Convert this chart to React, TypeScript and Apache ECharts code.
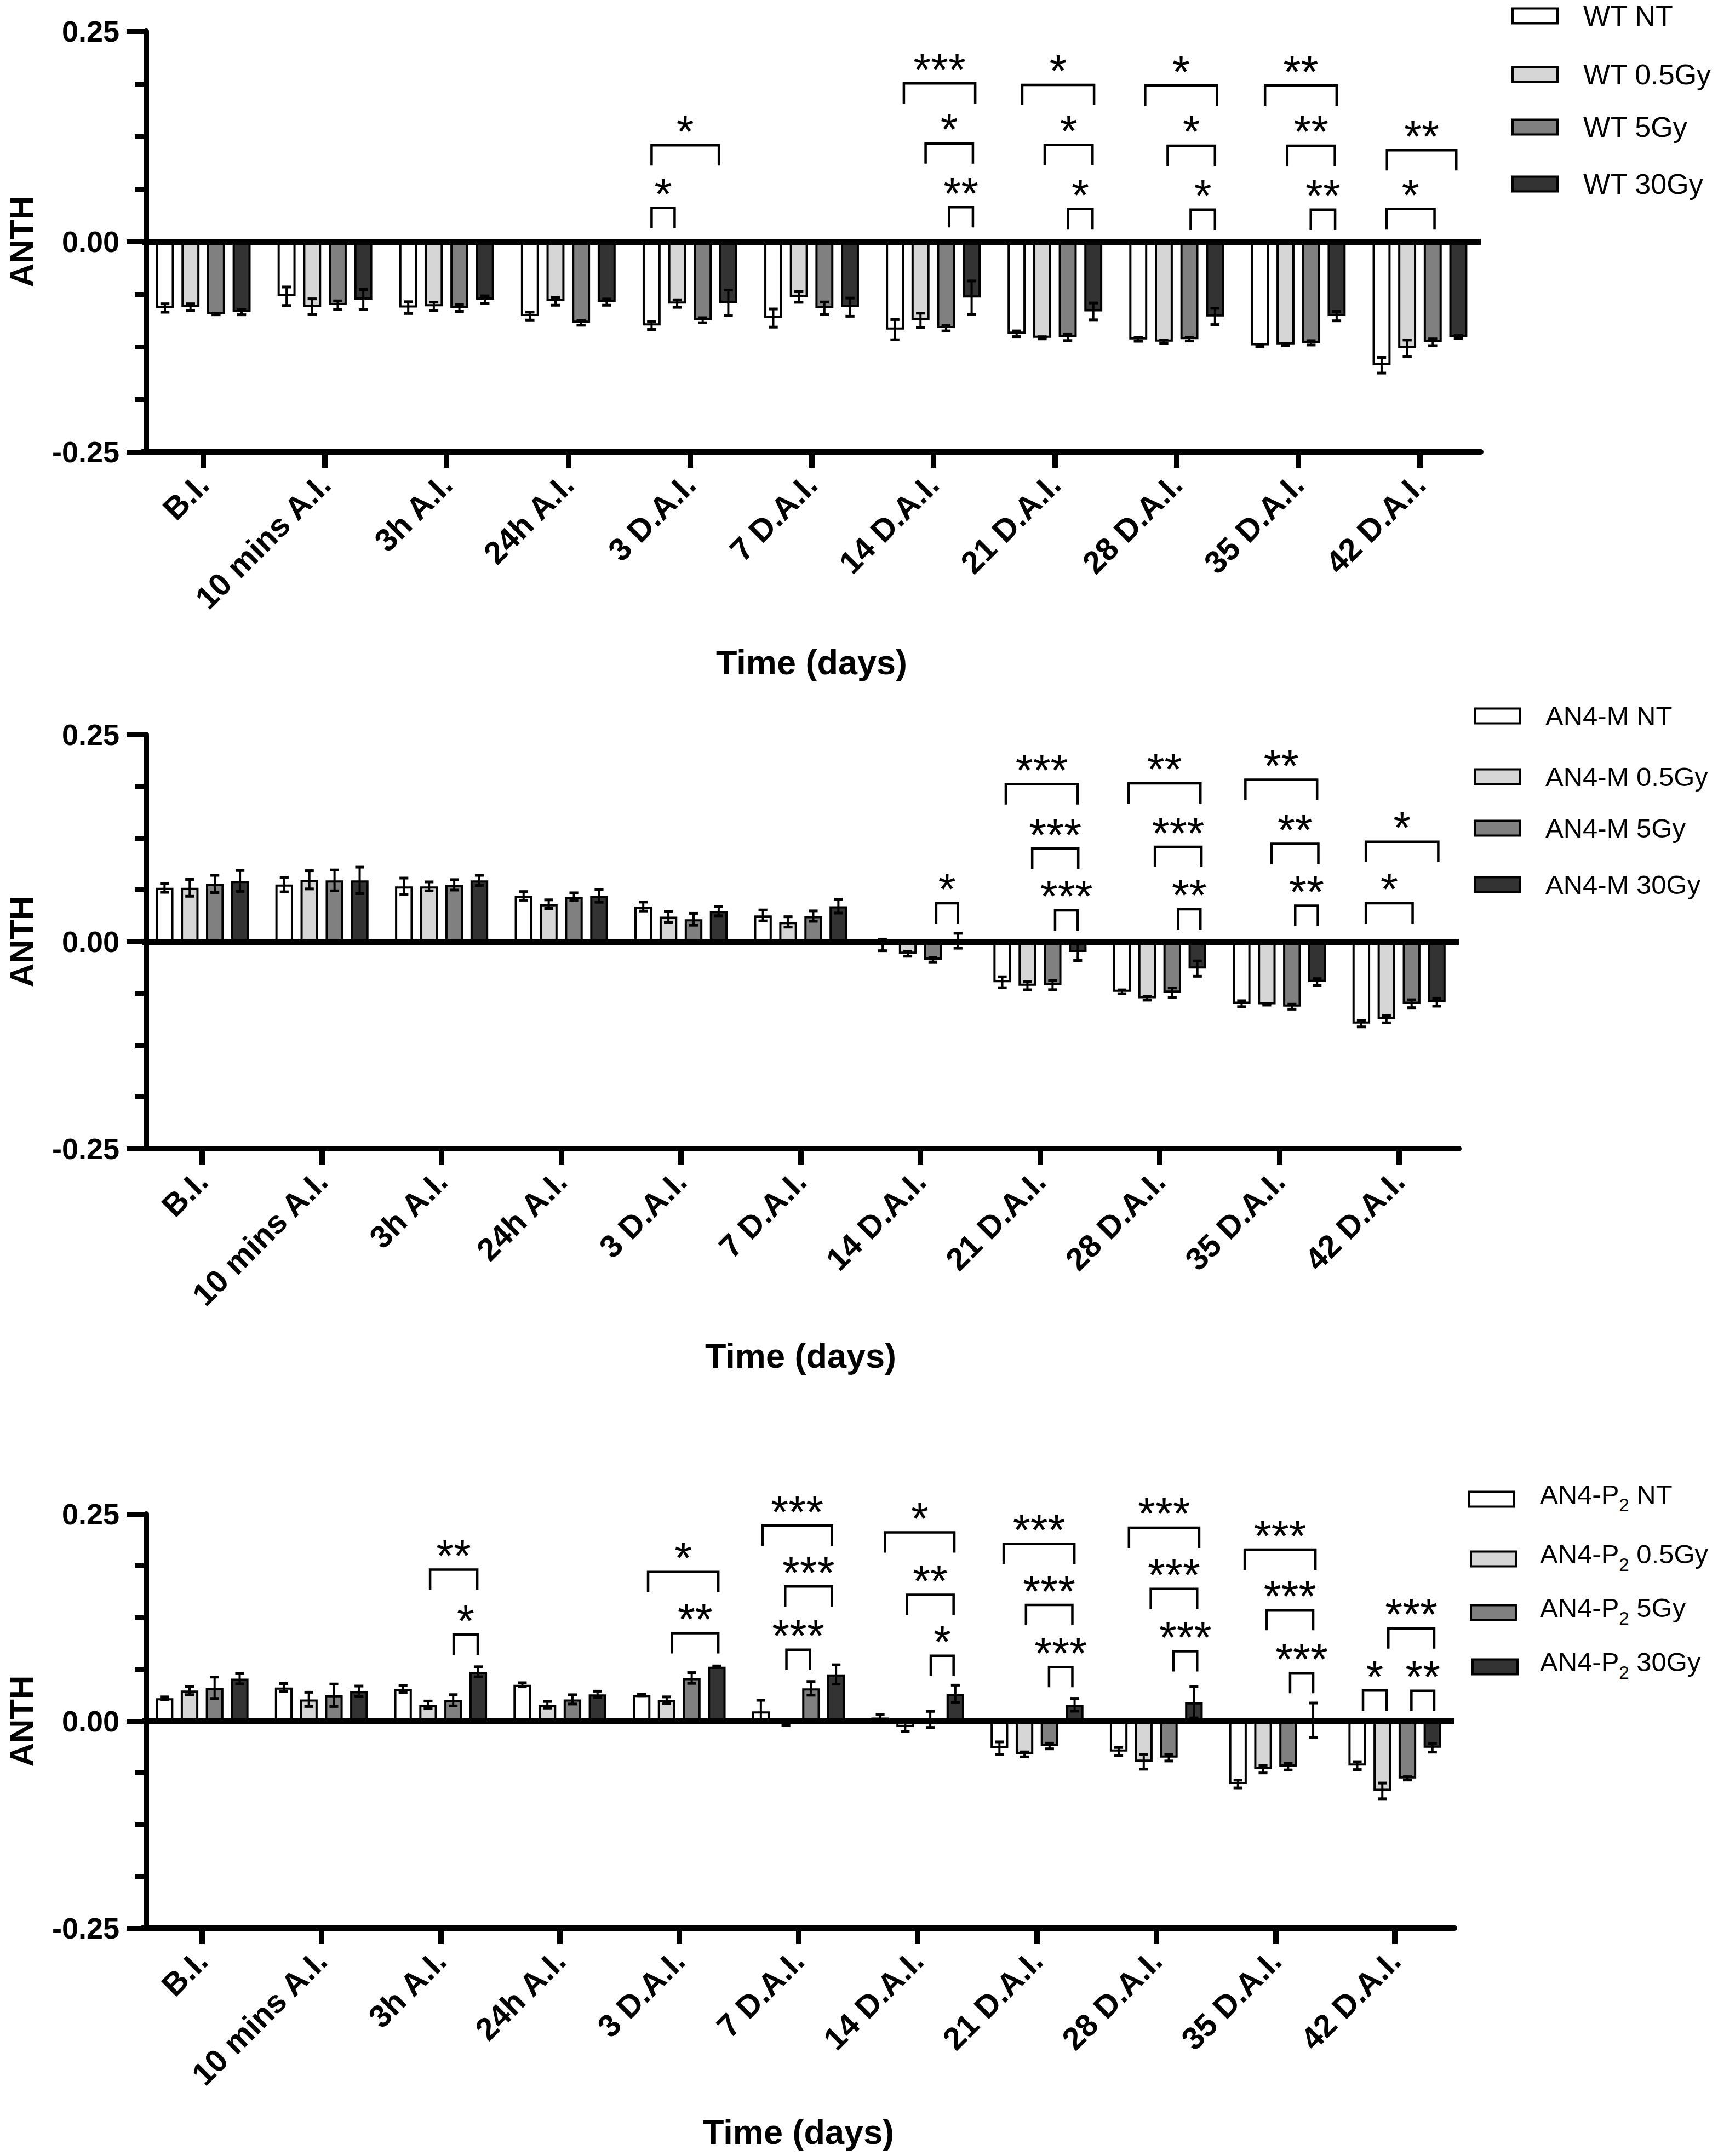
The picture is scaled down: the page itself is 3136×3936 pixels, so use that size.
import React, { useEffect, useRef } from "react";
import * as echarts from "echarts";

// ---------- DATA ----------
const categories = ["B.I.", "10 mins A.I.", "3h A.I.", "24h A.I.", "3 D.A.I.", "7 D.A.I.", "14 D.A.I.", "21 D.A.I.", "28 D.A.I.", "35 D.A.I.", "42 D.A.I."];
const yTickValues = [-0.25, 0, 0.25];

// Panel 1: WT
const wtNames = ["WT NT", "WT 0.5Gy", "WT 5Gy", "WT 30Gy"];
const wtNT = [-0.079, -0.065, -0.0785, -0.0886, -0.0998, -0.0909, -0.1047, -0.1096, -0.1163, -0.1234, -0.147];
const wtNTErr = [0.005, 0.011, 0.007, 0.0047, 0.0047, 0.0108, 0.012, 0.0034, 0.0022, 0.0013, 0.0093];
const wt05 = [-0.078, -0.0774, -0.077, -0.071, -0.0737, -0.0658, -0.0935, -0.1144, -0.119, -0.1223, -0.127];
const wt05Err = [0.004, 0.0093, 0.005, 0.0047, 0.0045, 0.0064, 0.0084, 0.0013, 0.0019, 0.0015, 0.0099];
const wt5 = [-0.086, -0.0755, -0.079, -0.0965, -0.0935, -0.0793, -0.1028, -0.114, -0.116, -0.1204, -0.1197];
const wt5Err = [0.001, 0.005, 0.004, 0.003, 0.003, 0.0075, 0.0034, 0.0037, 0.0022, 0.0026, 0.004];
const wt30 = [-0.084, -0.069, -0.069, -0.072, -0.0729, -0.078, -0.0666, -0.083, -0.089, -0.0886, -0.1133];
const wt30Err = [0.003, 0.012, 0.0045, 0.0037, 0.0153, 0.0108, 0.0198, 0.01, 0.0097, 0.0056, 0.0019];
// [category, bracket height, left bar pos, right bar pos, number of stars]
const wtBrackets = [
  [4, 0.04, 0.0, 0.9, 1], [4, 0.1144, 0.0, 2.63, 1],
  [6, 0.188, 0.35, 3.14, 3], [6, 0.1167, 1.2, 3.05, 1], [6, 0.0408, 2.12, 3.05, 2],
  [7, 0.1862, 0.22, 3.03, 1], [7, 0.1148, 1.1, 2.97, 1], [7, 0.0389, 2.01, 2.97, 1],
  [8, 0.1855, 0.27, 3.08, 1], [8, 0.114, 1.15, 3.0, 1], [8, 0.038, 2.05, 3.0, 1],
  [9, 0.1855, 0.2, 3.0, 2], [9, 0.114, 1.07, 2.93, 2], [9, 0.038, 1.99, 2.94, 2],
  [10, 0.1085, 0.21, 2.92, 2], [10, 0.0389, 0.19, 2.07, 1],
];

// Panel 2: AN4-M
const mNames = ["AN4-M NT", "AN4-M 0.5Gy", "AN4-M 5Gy", "AN4-M 30Gy"];
const mNT = [0.0649, 0.0689, 0.0667, 0.0552, 0.0423, 0.0316, -0.004, -0.0491, -0.0606, -0.075, -0.099];
const mNTErr = [0.0054, 0.0088, 0.01, 0.0052, 0.0054, 0.0066, 0.007, 0.0066, 0.0023, 0.0036, 0.004];
const m05 = [0.0649, 0.0746, 0.0667, 0.0452, 0.0301, 0.0237, -0.0147, -0.0534, -0.0685, -0.0757, -0.0936];
const m05Err = [0.0102, 0.011, 0.0054, 0.0052, 0.0066, 0.0063, 0.003, 0.0048, 0.0022, 0.001, 0.0045];
const m5 = [0.0696, 0.0739, 0.0685, 0.0542, 0.0269, 0.0308, -0.0219, -0.0527, -0.0617, -0.0786, -0.075];
const m5Err = [0.0104, 0.0126, 0.0063, 0.0047, 0.0072, 0.0063, 0.0027, 0.0054, 0.0057, 0.003, 0.0048];
const m30 = [0.0732, 0.0739, 0.0739, 0.0552, 0.0369, 0.0427, 0.001, -0.0126, -0.0326, -0.0488, -0.0732];
const m30Err = [0.0126, 0.016, 0.0061, 0.0077, 0.0057, 0.0083, 0.009, 0.0102, 0.0093, 0.004, 0.0048];
const mBrackets = [
  [6, 0.0463, 2.13, 2.99, 1],
  [7, 0.19, 0.14, 3.0, 3], [7, 0.1123, 1.19, 3.02, 3], [7, 0.0377, 2.1, 3.0, 3],
  [8, 0.1912, 0.26, 3.12, 2], [8, 0.1144, 1.31, 3.16, 3], [8, 0.0391, 2.23, 3.12, 2],
  [9, 0.1955, 0.15, 3.0, 2], [9, 0.118, 1.19, 3.05, 2], [9, 0.0434, 2.13, 3.03, 2],
  [10, 0.1205, 0.18, 3.06, 1], [10, 0.0463, 0.18, 2.04, 1],
];

// Panel 3: AN4-P2
const pNames = ["AN4-P2 NT", "AN4-P2 0.5Gy", "AN4-P2 5Gy", "AN4-P2 30Gy"];
const pNT = [0.0276, 0.0405, 0.0387, 0.0438, 0.0316, 0.0118, 0.0043, -0.0326, -0.0369, -0.076, -0.0538];
const pNTErr = [0.0016, 0.0048, 0.004, 0.0025, 0.001, 0.0133, 0.0034, 0.0075, 0.005, 0.0047, 0.0048];
const p05 = [0.0369, 0.0262, 0.0197, 0.0197, 0.0251, -0.003, -0.0072, -0.0402, -0.0491, -0.0581, -0.0843];
const p05Err = [0.005, 0.0086, 0.0045, 0.004, 0.0041, 0.0024, 0.0057, 0.003, 0.009, 0.0045, 0.0095];
const p5 = [0.0402, 0.0312, 0.0251, 0.0262, 0.052, 0.0395, 0.002, -0.0301, -0.0441, -0.0549, -0.0692];
const p5Err = [0.0129, 0.0136, 0.0068, 0.0056, 0.0065, 0.0083, 0.0097, 0.0034, 0.0041, 0.0041, 0.002];
const p30 = [0.0513, 0.0362, 0.0595, 0.0323, 0.0656, 0.0563, 0.033, 0.0197, 0.0226, 0.001, -0.0323];
const p30Err = [0.0063, 0.0061, 0.0061, 0.0038, 0.001, 0.0117, 0.0104, 0.0077, 0.0188, 0.0208, 0.0052];
const pBrackets = [
  [2, 0.1829, 1.08, 2.96, 2], [2, 0.1044, 2.02, 2.98, 1],
  [4, 0.18, 0.26, 3.06, 1], [4, 0.1062, 1.21, 3.06, 2],
  [5, 0.236, 0.07, 2.83, 3], [5, 0.1625, 0.97, 2.83, 3], [5, 0.0861, 1.02, 1.96, 3],
  [6, 0.2278, 0.2, 2.96, 1], [6, 0.1524, 1.07, 2.93, 2], [6, 0.0789, 2.02, 2.93, 1],
  [7, 0.2141, 0.17, 2.99, 3], [7, 0.1402, 1.06, 2.91, 3], [7, 0.0653, 1.98, 2.91, 3],
  [8, 0.2335, 0.41, 3.21, 3], [8, 0.1596, 1.28, 3.13, 3], [8, 0.0843, 2.19, 3.13, 3],
  [9, 0.207, 0.27, 3.09, 3], [9, 0.1341, 1.14, 3.0, 3], [9, 0.0581, 2.08, 3.0, 3],
  [10, 0.1119, 1.24, 3.07, 3], [10, 0.0369, 0.23, 1.17, 1], [10, 0.0366, 2.16, 3.07, 2],
];

// ---------- STYLE / LAYOUT ----------
const FONT = "'Liberation Sans', Arial, Helvetica, sans-serif";
const barColors = ["#ffffff", "#d6d6d6", "#808080", "#333333"];
const BAR_W = 0.148; // fraction of category band
const BAR_GAP = 0.42; // fraction of bar width
const SPACING = BAR_W * (1 + BAR_GAP);
const CAP = 0.074;
const LEG = 37;
const STAR_DY = 26;

const panels = [
  {
    names: wtNames, values: [wtNT, wt05, wt5, wt30], errs: [wtNTErr, wt05Err, wt5Err, wt30Err], brackets: wtBrackets,
    grid: { left: 260, top: 57, width: 2443, height: 768 }, nameGap: 352,
    legend: { boxX: [2761, 2761, 2761, 2761], cy: [29, 136, 232, 336], textX: 2890, fs: 52 }, sub: false,
  },
  {
    names: mNames, values: [mNT, m05, m5, m30], errs: [mNTErr, m05Err, m5Err, m30Err], brackets: mBrackets,
    grid: { left: 260, top: 1341, width: 2403, height: 756 }, nameGap: 346,
    legend: { boxX: [2692, 2692, 2692, 2692], cy: [1307, 1418, 1512, 1615], textX: 2821, fs: 49 }, sub: false,
  },
  {
    names: pNames, values: [pNT, p05, p5, p30], errs: [pNTErr, p05Err, p5Err, p30Err], brackets: pBrackets,
    grid: { left: 260, top: 2764, width: 2395, height: 756 }, nameGap: 340,
    legend: { boxX: [2682, 2685, 2685, 2688], cy: [2737, 2846, 2944, 3043], textX: 2811, fs: 49 }, sub: true,
  },
];

function buildOption() {
  const grid: any[] = [];
  const xAxis: any[] = [];
  const yAxis: any[] = [];
  const series: any[] = [];
  const graphic: any[] = [];

  panels.forEach((p, pi) => {
    grid.push({ ...p.grid, containLabel: false, outerBoundsMode: "none" });
    xAxis.push({
      type: "category",
      gridIndex: pi,
      data: categories,
      axisLine: { show: true, onZero: false, lineStyle: { color: "#000", width: 10 } },
      axisTick: { show: true, alignWithLabel: true, length: 29, lineStyle: { color: "#000", width: 10 } },
      axisLabel: {
        interval: 0, rotate: 45, margin: 50, color: "#000",
        fontSize: 58, fontWeight: "bold", fontFamily: FONT,
      },
      splitLine: { show: false },
      name: "Time (days)",
      nameLocation: "middle",
      nameGap: p.nameGap,
      nameTextStyle: { color: "#000", fontSize: 63, fontWeight: "bold", fontFamily: FONT },
    });
    yAxis.push({
      type: "value",
      gridIndex: pi,
      offset: -7,
      min: yTickValues[0],
      max: yTickValues[yTickValues.length - 1],
      interval: 0.25,
      axisLine: { show: true, lineStyle: { color: "#000", width: 10 } },
      axisTick: { show: true, length: 36, lineStyle: { color: "#000", width: 9 } },
      minorTick: { show: true, splitNumber: 4, length: 21, lineStyle: { color: "#000", width: 9 } },
      splitLine: { show: false },
      minorSplitLine: { show: false },
      axisLabel: {
        margin: 49, color: "#000", fontSize: 54, fontWeight: "bold", fontFamily: FONT,
        formatter: (v: number) => v.toFixed(2),
      },
      name: "ANTH",
      nameLocation: "middle",
      nameGap: 198,
      nameTextStyle: { color: "#000", fontSize: 60, lineHeight: 60, fontWeight: "bold", fontFamily: FONT },
    });

    p.values.forEach((vals, si) => {
      const s: any = {
        type: "bar",
        name: p.names[si],
        xAxisIndex: pi,
        yAxisIndex: pi,
        data: vals,
        barWidth: (BAR_W * 100).toFixed(1) + "%",
        barGap: (BAR_GAP * 100).toFixed(0) + "%",
        itemStyle: { color: barColors[si], borderColor: "#000", borderWidth: 4 },
        silent: true,
        z: 2,
      };
      if (si === 0) {
        s.markLine = {
          silent: true,
          symbol: "none",
          label: { show: false },
          lineStyle: { color: "#000", width: 11, type: "solid" },
          emphasis: { disabled: true },
          data: [{ yAxis: 0 }],
          z: 5,
        };
      }
      series.push(s);
    });

    const errData: number[][] = [];
    p.values.forEach((vals, si) => {
      vals.forEach((v, ci) => errData.push([ci, v, p.errs[si][ci], si]));
    });
    series.push({
      type: "custom",
      xAxisIndex: pi,
      yAxisIndex: pi,
      silent: true,
      z: 8,
      encode: { x: 0, y: 1 },
      data: errData,
      renderItem: (params: any, api: any) => {
        const cat = api.value(0), v = api.value(1), e = api.value(2), s = api.value(3);
        const band = api.size([1, 0])[0];
        const top = api.coord([cat, v + e]);
        const bot = api.coord([cat, v - e]);
        const x = top[0] + (s - 1.5) * band * SPACING;
        const c = (band * CAP) / 2;
        const st = { stroke: "#000", lineWidth: 4 };
        return {
          type: "group",
          children: [
            { type: "line", shape: { x1: x, y1: top[1], x2: x, y2: bot[1] }, style: st },
            { type: "line", shape: { x1: x - c, y1: top[1], x2: x + c, y2: top[1] }, style: { stroke: "#000", lineWidth: 5 } },
            { type: "line", shape: { x1: x - c, y1: bot[1], x2: x + c, y2: bot[1] }, style: { stroke: "#000", lineWidth: 5 } },
          ],
        };
      },
    });

    series.push({
      type: "custom",
      xAxisIndex: pi,
      yAxisIndex: pi,
      silent: true,
      z: 9,
      encode: { x: 0, y: 1 },
      data: p.brackets,
      renderItem: (params: any, api: any) => {
        const cat = api.value(0), y = api.value(1), pl = api.value(2), pr = api.value(3), n = api.value(4);
        const band = api.size([1, 0])[0];
        const c = api.coord([cat, y]);
        const xl = c[0] + (pl - 1.5) * band * SPACING;
        const xr = c[0] + (pr - 1.5) * band * SPACING;
        const yy = c[1];
        return {
          type: "group",
          children: [
            {
              type: "polyline",
              shape: { points: [[xl, yy + LEG], [xl, yy], [xr, yy], [xr, yy + LEG]] },
              style: { stroke: "#000", lineWidth: 4.5, fill: "none" },
            },
            {
              type: "text",
              x: (xl + xr) / 2,
              y: yy - STAR_DY,
              style: {
                text: "*".repeat(n), fill: "#000", fontSize: 82, fontFamily: FONT,
                align: "center", verticalAlign: "middle",
              },
            },
          ],
        };
      },
    });

    // legend
    p.names.forEach((nm, si) => {
      const cy = p.legend.cy[si];
      const fs = p.legend.fs;
      graphic.push({
        type: "rect",
        shape: { x: p.legend.boxX[si], y: cy - 13.5, width: 82, height: 27 },
        style: { fill: barColors[si], stroke: "#000", lineWidth: 4 },
        silent: true,
      });
      if (p.sub) {
        const rest = nm.replace("AN4-P2", "");
        graphic.push({
          type: "text",
          x: p.legend.textX,
          y: cy + 27,
          silent: true,
          style: {
            text: "{a|AN4-P}{b|2}{a|" + rest + "}",
            verticalAlign: "bottom",
            align: "left",
            rich: {
              a: { fontSize: fs, fontFamily: FONT, fill: "#000", lineHeight: 54, padding: [0, 0, 12, 0], verticalAlign: "bottom" },
              b: { fontSize: 33, fontFamily: FONT, fill: "#000", lineHeight: 38, verticalAlign: "bottom" },
            },
          },
        });
      } else {
        graphic.push({
          type: "text",
          x: p.legend.textX,
          y: cy,
          silent: true,
          style: { text: nm, fill: "#000", fontSize: fs, lineHeight: 44, fontFamily: FONT, align: "left", verticalAlign: "middle" },
        });
      }
    });
  });

  return {
    animation: false,
    backgroundColor: "#ffffff",
    grid,
    xAxis,
    yAxis,
    series,
    graphic,
  };
}

export default function App() {
  const ref = useRef<HTMLDivElement>(null);
  useEffect(() => {
    document.body.style.margin = "0";
    if (!ref.current) return;
    const chart = echarts.init(ref.current, null, { renderer: "svg" });
    chart.setOption(buildOption() as any);
    return () => chart.dispose();
  }, []);
  return <div ref={ref} style={{ width: 3136, height: 3936 }} />;
}
